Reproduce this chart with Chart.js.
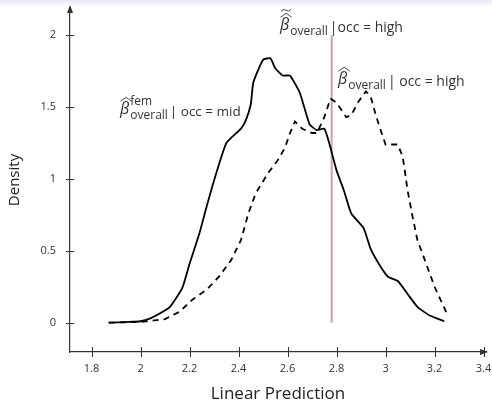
<!DOCTYPE html>
<html lang="en">
<head>
    <meta charset="UTF-8">
    <title>Linear Prediction density</title>
    <script src="https://cdn.jsdelivr.net/npm/chart.js@4.4.1/dist/chart.umd.min.js"></script>
    <style>
        body {
            margin: 0;
            padding: 0;
            background: linear-gradient(#e4e9f1 0px, #ffffff 7px) no-repeat;
            background-color: #fff;
        }
        canvas {
            display: block;
        }
    </style>
</head>
<body>
    <canvas id="densityChart" width="492" height="404"></canvas>

    <script>
        // density of the linear prediction, occ = mid (solid)
        const midX = [1.87, 1.95, 2.0, 2.04, 2.08, 2.12, 2.17, 2.2, 2.24, 2.27, 2.3, 2.35,
            2.41, 2.43, 2.45, 2.46, 2.5, 2.53, 2.55, 2.58, 2.61, 2.65,
            2.69, 2.72, 2.75, 2.77, 2.8, 2.83, 2.86, 2.91, 2.94, 2.98,
            3.01, 3.05, 3.09, 3.13, 3.18, 3.24];
        const midY = [0, 0.005, 0.01, 0.03, 0.065, 0.11, 0.24, 0.41, 0.62, 0.81, 0.99, 1.25,
            1.35, 1.41, 1.52, 1.67, 1.83, 1.84, 1.77, 1.72, 1.72, 1.6,
            1.38, 1.34, 1.35, 1.25, 1.06, 0.92, 0.76, 0.66, 0.51, 0.39,
            0.32, 0.29, 0.2, 0.11, 0.05, 0.01];

        // density of the linear prediction, occ = high (dashed)
        const highX = [1.87, 2.0, 2.1, 2.16, 2.21, 2.27, 2.32, 2.37, 2.41, 2.44,
            2.47, 2.52, 2.56, 2.59, 2.61, 2.63, 2.66, 2.7, 2.72, 2.75,
            2.775, 2.8, 2.84, 2.86, 2.89, 2.92, 2.94, 2.96, 2.98, 3.0,
            3.05, 3.07, 3.08, 3.09, 3.11, 3.13, 3.17, 3.2, 3.25];
        const highY = [0, 0.005, 0.025, 0.077, 0.158, 0.23, 0.32, 0.436, 0.576, 0.76,
            0.9, 1.04, 1.13, 1.22, 1.32, 1.4, 1.35, 1.32, 1.32, 1.43,
            1.56, 1.53, 1.43, 1.445, 1.54, 1.61, 1.57, 1.445, 1.34, 1.24,
            1.24, 1.155, 1.04, 0.92, 0.74, 0.576, 0.39, 0.25, 0.065];

        // vertical reference line
        const refX = [2.78, 2.78];
        const refY = [0, 2];

        const xTicks = [1.8, 2, 2.2, 2.4, 2.6, 2.8, 3, 3.2, 3.4];
        const yTicks = [0, 0.5, 1, 1.5, 2];

        const FONT = "'Open Sans', 'DejaVu Sans', sans-serif";
        const INK = '#333';

        function toPoints(xs, ys) {
            return xs.map((x, i) => ({ x: x, y: ys[i] }));
        }

        // labels next to the curves: anchor in data units
        const labels = [
            { x: 1.916, y: 1.45, sup: 'fem', tilde: false, rest: '| occ = mid', size: 13.5 },
            { x: 2.569, y: 2.035, sup: null, tilde: true, rest: '|occ = high', size: 14 },
            { x: 2.806, y: 1.66, sup: null, tilde: false, rest: '| occ = high', size: 14 }
        ];

        function drawBeta(ctx, px, py, lab) {
            ctx.save();
            ctx.fillStyle = INK;
            ctx.strokeStyle = INK;
            ctx.textBaseline = 'alphabetic';
            ctx.textAlign = 'left';

            // beta
            ctx.font = 'italic 16px ' + FONT;
            const bw = ctx.measureText('β').width;
            ctx.fillText('β', px, py);

            // wide hat
            ctx.lineWidth = 0.9;
            ctx.beginPath();
            ctx.moveTo(px + 0.5, py - 13);
            ctx.lineTo(px + bw / 2 + 1.5, py - 17);
            ctx.lineTo(px + bw + 2.5, py - 13);
            ctx.stroke();

            if (lab.tilde) {
                const tx = px + 1, ty = py - 20, tw = bw + 1;
                ctx.beginPath();
                ctx.moveTo(tx, ty + 1);
                ctx.quadraticCurveTo(tx + tw * 0.25, ty - 2.2, tx + tw * 0.5, ty);
                ctx.quadraticCurveTo(tx + tw * 0.75, ty + 2.2, tx + tw, ty - 1);
                ctx.stroke();
            }

            let cx = px + bw + 1;
            ctx.font = '12px ' + FONT;
            const subW = ctx.measureText('overall').width;
            ctx.fillText('overall', cx, py + 5);
            if (lab.sup) {
                ctx.fillText(lab.sup, cx, py - 9);
            }
            cx += subW + 2;

            ctx.font = lab.size + 'px ' + FONT;
            ctx.fillText(lab.rest, cx, py + 2);
            ctx.restore();
        }

        // axis arrows, crossing tick marks and curve labels
        const decorPlugin = {
            id: 'decor',
            afterDraw(chart) {
                const ctx = chart.ctx;
                const area = chart.chartArea;
                const xs = chart.scales.x;
                const ys = chart.scales.y;
                ctx.save();
                ctx.strokeStyle = INK;
                ctx.fillStyle = INK;
                ctx.lineWidth = 1;

                xTicks.forEach(v => {
                    const p = Math.round(xs.getPixelForValue(v)) + 0.5;
                    ctx.beginPath();
                    ctx.moveTo(p, area.bottom - 5);
                    ctx.lineTo(p, area.bottom + 5);
                    ctx.stroke();
                });
                yTicks.forEach(v => {
                    const p = Math.round(ys.getPixelForValue(v)) + 0.5;
                    ctx.beginPath();
                    ctx.moveTo(area.left - 4, p);
                    ctx.lineTo(area.left + 4, p);
                    ctx.stroke();
                });

                // arrow heads
                ctx.beginPath();
                ctx.moveTo(area.left, area.top - 3);
                ctx.lineTo(area.left - 3, area.top + 5);
                ctx.lineTo(area.left + 3, area.top + 5);
                ctx.closePath();
                ctx.fill();
                ctx.beginPath();
                ctx.moveTo(area.right + 2, area.bottom);
                ctx.lineTo(area.right - 6, area.bottom - 3);
                ctx.lineTo(area.right - 6, area.bottom + 3);
                ctx.closePath();
                ctx.fill();
                ctx.restore();

                labels.forEach(lab => {
                    drawBeta(ctx, xs.getPixelForValue(lab.x), ys.getPixelForValue(lab.y), lab);
                });
            }
        };

        const ctx = document.getElementById('densityChart').getContext('2d');
        new Chart(ctx, {
            type: 'scatter',
            data: {
                datasets: [
                    {
                        label: 'occ = mid',
                        data: toPoints(midX, midY),
                        showLine: true,
                        borderColor: '#000',
                        borderWidth: 1.8,
                        pointRadius: 0,
                        tension: 0.15
                    },
                    {
                        label: 'occ = high',
                        data: toPoints(highX, highY),
                        showLine: true,
                        borderColor: '#000',
                        borderWidth: 1.8,
                        borderDash: [6, 5],
                        pointRadius: 0,
                        tension: 0
                    },
                    {
                        label: 'reference',
                        data: toPoints(refX, refY),
                        showLine: true,
                        borderColor: '#c2a59e',
                        borderWidth: 2,
                        pointRadius: 0
                    }
                ]
            },
            options: {
                responsive: false,
                animation: false,
                layout: {
                    padding: { top: 8, right: 6, left: 0, bottom: 0 }
                },
                plugins: {
                    legend: { display: false },
                    tooltip: { enabled: false }
                },
                scales: {
                    x: {
                        type: 'linear',
                        min: 1.712,
                        max: 3.41,
                        afterFit: s => { s.height = 52; s.paddingLeft = 0; s.paddingRight = 0; },
                        afterBuildTicks: s => { s.ticks = xTicks.map(v => ({ value: v })); },
                        grid: { display: false },
                        border: { display: true, color: INK, width: 1.2 },
                        ticks: {
                            color: INK,
                            padding: 2,
                            maxRotation: 0,
                            font: { family: FONT, size: 11 },
                            callback: v => String(v)
                        },
                        title: {
                            display: true,
                            text: 'Linear Prediction',
                            color: '#222',
                            font: { family: FONT, size: 17 },
                            padding: { top: 0, bottom: 0 }
                        }
                    },
                    y: {
                        type: 'linear',
                        min: -0.204,
                        max: 2.19,
                        afterFit: s => { s.width = 70; s.paddingTop = 0; s.paddingBottom = 0; },
                        afterBuildTicks: s => { s.ticks = yTicks.map(v => ({ value: v })); },
                        grid: { display: false },
                        border: { display: true, color: INK, width: 1.2 },
                        ticks: {
                            color: INK,
                            padding: 6,
                            font: { family: FONT, size: 11 },
                            callback: v => String(v)
                        },
                        title: {
                            display: true,
                            text: 'Density',
                            color: '#222',
                            font: { family: FONT, size: 15 },
                            padding: { top: 6, bottom: 0 }
                        }
                    }
                }
            },
            plugins: [decorPlugin]
        });
    </script>
</body>
</html>
